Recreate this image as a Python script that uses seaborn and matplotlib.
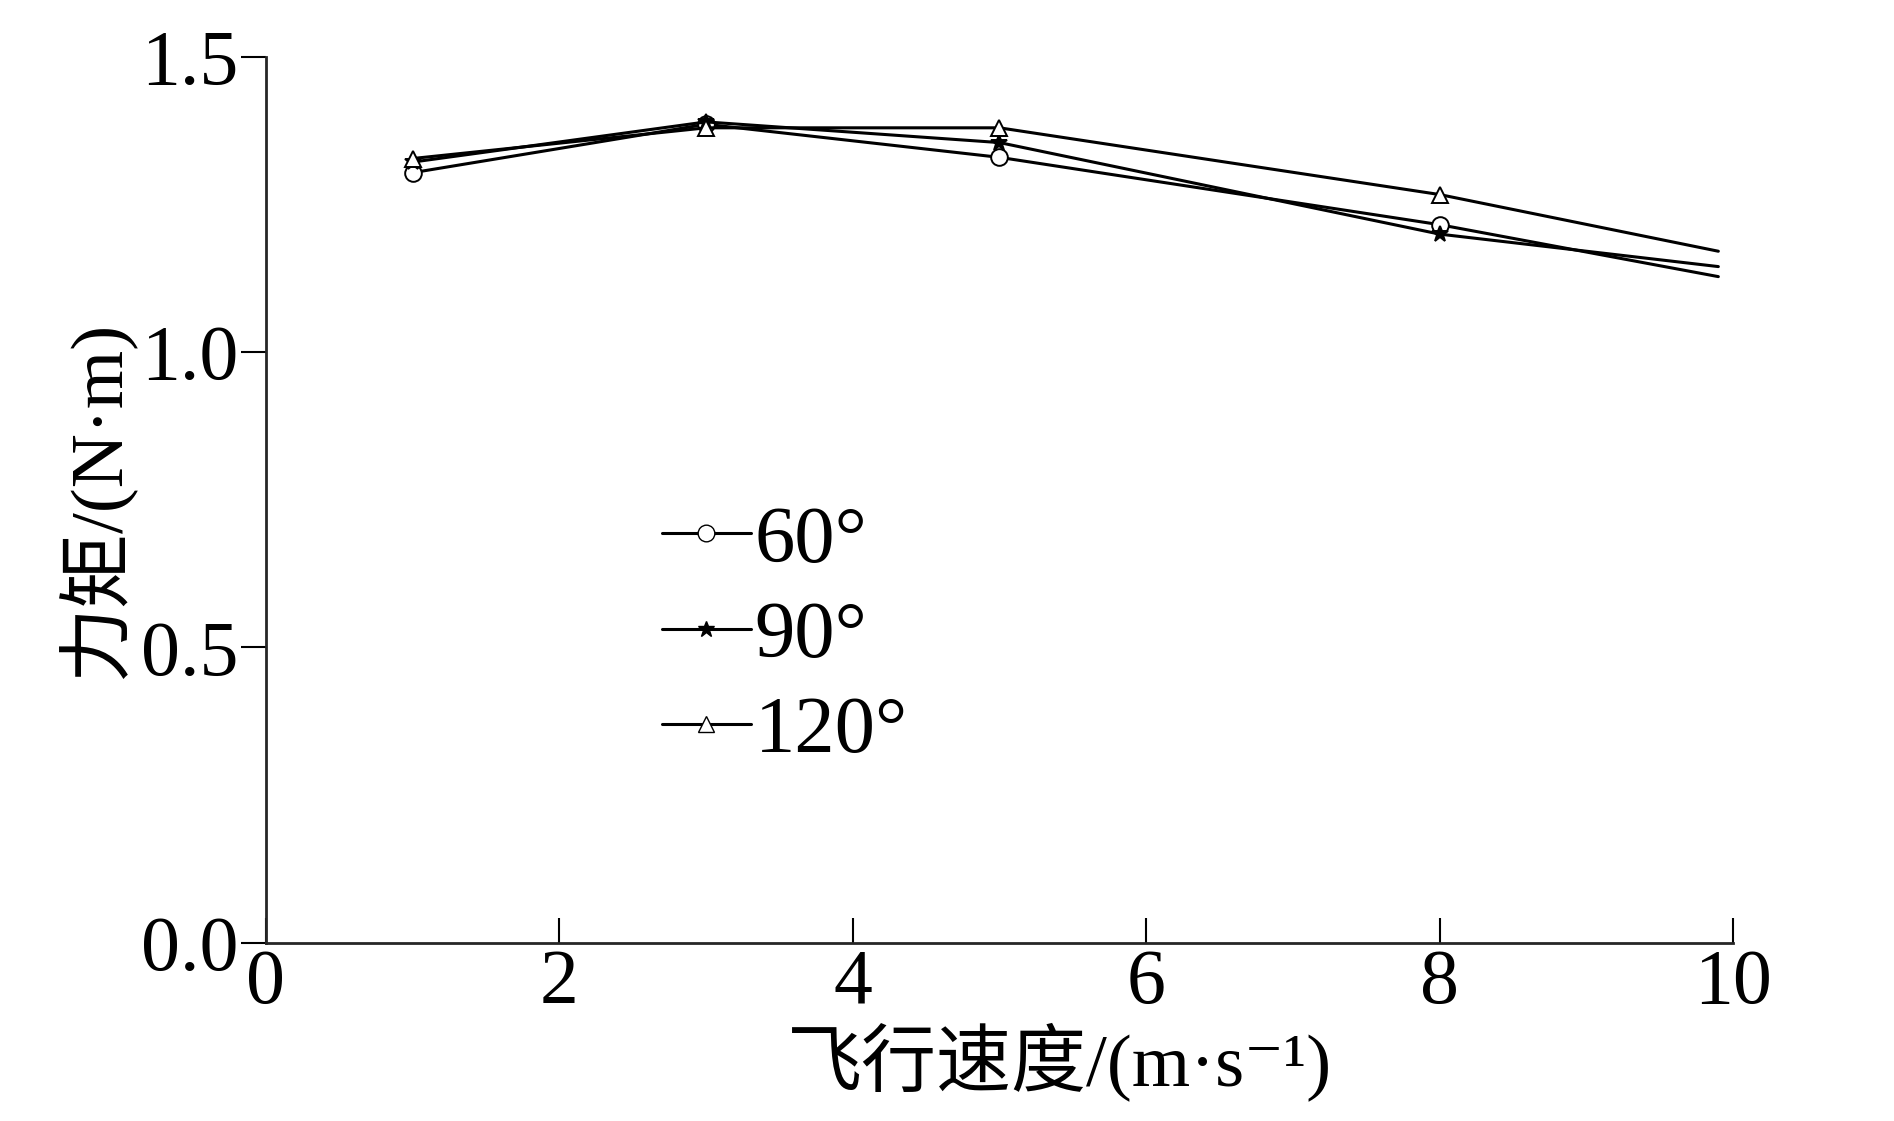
import pandas as pd
import matplotlib.pyplot as plt
import seaborn as sns
from matplotlib.lines import Line2D

# 飞行速度 (m/s) and 力矩 (N·m)
speed = [1, 3, 5, 8, 9.9]
torque_60 = [1.304, 1.386, 1.330, 1.216, 1.128]
torque_90 = [1.322, 1.390, 1.355, 1.200, 1.145]
torque_120 = [1.328, 1.380, 1.380, 1.267, 1.171]
angles = ["60°", "90°", "120°"]

df = pd.concat([
    pd.DataFrame({"speed": speed, "torque": t, "angle": a})
    for t, a in zip([torque_60, torque_90, torque_120], angles)
])

sns.set_style("ticks")
plt.rcParams["font.family"] = ["Liberation Serif", "Noto Sans CJK SC", "DejaVu Serif"]
plt.rcParams["text.color"] = "black"
plt.rcParams["axes.labelcolor"] = "black"
plt.rcParams["xtick.color"] = "black"
plt.rcParams["ytick.color"] = "black"

fig = plt.figure(figsize=(18.94, 11.21), dpi=100)
ax = fig.add_axes([0.1404, 0.159, 0.7746, 0.7902])

markers = {"60°": "o", "90°": "*", "120°": "^"}
sns.lineplot(data=df, x="speed", y="torque", hue="angle", style="angle",
             palette=["black"] * 3, markers=markers, dashes=False,
             linewidth=2.2, markersize=12, markerfacecolor="white",
             markeredgecolor="black", markeredgewidth=1.4,
             markevery=[0, 1, 2, 3], ax=ax, legend=False)
# 90° star is filled
for line in ax.get_lines():
    if line.get_marker() == "*":
        line.set_markerfacecolor("black")

ax.set_xlim(0, 10)
ax.set_ylim(0, 1.5)
ax.set_xticks([0, 2, 4, 6, 8, 10])
ax.set_yticks([0.0, 0.5, 1.0, 1.5])
ax.set_yticklabels(["0.0", "0.5", "1.0", "1.5"])
ax.tick_params(axis="x", direction="in", length=18, width=1.5, labelsize=56, pad=4)
ax.tick_params(axis="y", direction="out", length=18, width=1.5, labelsize=56, pad=2)
for s in ["top", "right"]:
    ax.spines[s].set_visible(False)
for s in ["left", "bottom"]:
    ax.spines[s].set_linewidth(2)
ax.set_xlabel("飞行速度/(m·s⁻¹)", fontsize=54)
ax.xaxis.set_label_coords(0.541, -0.09)
ax.set_ylabel("力矩/(N·m)", fontsize=54, labelpad=4)

handles = [
    Line2D([], [], color="black", lw=2.2, marker="o", markersize=12,
           markerfacecolor="white", markeredgecolor="black"),
    Line2D([], [], color="black", lw=2.2, marker="*", markersize=12,
           markerfacecolor="black", markeredgecolor="black"),
    Line2D([], [], color="black", lw=2.2, marker="^", markersize=12,
           markerfacecolor="white", markeredgecolor="black"),
]
ax.legend(handles, angles, loc="upper left", bbox_to_anchor=(0.27, 0.494),
          frameon=False, fontsize=58, handlelength=1.1, handletextpad=0.05,
          labelspacing=0.27, borderpad=0, borderaxespad=0)

fig.savefig("out.png", dpi=100)
